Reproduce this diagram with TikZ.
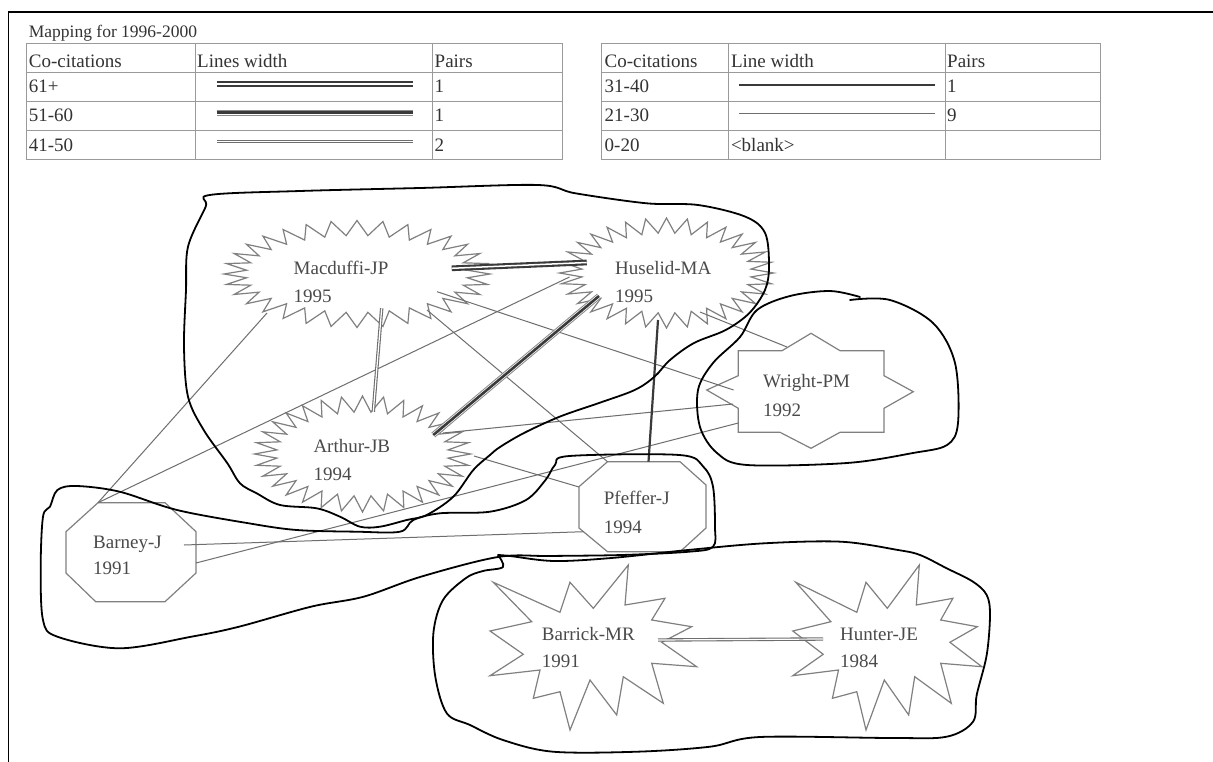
\documentclass[tikz,border=0pt]{standalone}
\usepackage{fontspec}
\setmainfont{Liberation Serif}
\definecolor{shapecol}{HTML}{808080}
\definecolor{linecol}{HTML}{6E6E6E}
\definecolor{txtcol}{HTML}{4A4A4A}
\definecolor{tblcol}{HTML}{9A9A9A}
\definecolor{tbltxt}{HTML}{333333}
\definecolor{darkcol}{HTML}{3A3A3A}
\definecolor{midcol}{HTML}{8A8A8A}
% seal (many-pointed elliptic star): cx, cy, rx, ry, depth x, depth y
\newcommand{\sealstar}[6]{%
  \draw[shp] plot[domain=0:63, samples=64, variable=\k]
    ({#1+(#3-#5*mod(\k,2))*cos(\k*5.625)}, {#2+(#4-#6*mod(\k,2))*sin(\k*5.625)}) -- cycle;}
\begin{document}
\begin{tikzpicture}[x=1pt,y=-1pt,
  shp/.style={draw=shapecol, line width=1.2pt, line join=miter},
  hand/.style={draw=black, line width=1.8pt, line cap=round, line join=round},
  framel/.style={draw=black, line width=1.8pt},
  tbl/.style={draw=tblcol, line width=1pt},
  tt/.style={anchor=base west, inner sep=0pt, text=tbltxt, font=\fontsize{19}{22}\selectfont},
  lbl/.style={anchor=base west, inner sep=0pt, text=txtcol, font=\fontsize{19}{22}\selectfont},
  cthin/.style={draw=linecol, line width=1pt},
  cmid/.style={draw=darkcol, line width=2.2pt},
  cdbl/.style={draw=linecol, line width=1.1pt, double=white, double distance=1.2pt},
  cfif/.style={preaction={draw=midcol, line width=6pt}, draw=white, line width=4pt, postaction={draw=darkcol, line width=2.6pt}},
  csix/.style={draw=darkcol, line width=2.1pt, double=white, double distance=1.5pt}
]
\useasboundingbox (0,0) rectangle (1213,762);
\fill[white] (0,0) rectangle (1213,762);

% frame
\draw[framel] (1213,11.7) -- (8.4,11.7) -- (8.4,762);

% ---------------- legend tables ----------------
\node[anchor=base west, inner sep=0pt, text=tbltxt, font=\fontsize{17.5}{20}\selectfont] (title) at (28.7,37.3) {Mapping for 1996-2000};

\draw[tbl] (26,43.3) rectangle (562.6,160);
\foreach \yy in {72.5,101.5,130.5} \draw[tbl] (26,\yy) -- (562.6,\yy);
\foreach \xx in {195,432.5} \draw[tbl] (\xx,43.3) -- (\xx,160);

\draw[tbl] (601.6,43.3) rectangle (1100.6,160);
\foreach \yy in {72.5,101.5,130.5} \draw[tbl] (601.6,\yy) -- (1100.6,\yy);
\foreach \xx in {728.7,945} \draw[tbl] (\xx,43.3) -- (\xx,160);

\node[tt] (lh1) at (28.7,67.5) {Co-citations};
\node[tt] (lh2) at (197,67.5) {Lines width};
\node[tt] (lh3) at (434.5,67.5) {Pairs};
\node[tt] (lr1) at (28.7,93) {61+};
\node[tt] (lr1p) at (434.5,93) {1};
\node[tt] (lr2) at (28.7,122) {51-60};
\node[tt] (lr2p) at (434.5,122) {1};
\node[tt] (lr3) at (28.7,151.5) {41-50};
\node[tt] (lr3p) at (434.5,151.5) {2};

\node[tt] (rh1) at (604.5,67.5) {Co-citations};
\node[tt] (rh2) at (730.8,67.5) {Line width};
\node[tt] (rh3) at (947,67.5) {Pairs};
\node[tt] (rr1) at (604.5,93) {31-40};
\node[tt] (rr1p) at (947,93) {1};
\node[tt] (rr2) at (604.5,122) {21-30};
\node[tt] (rr2p) at (947,122) {9};
\node[tt] (rr3) at (604.5,151.5) {0-20};
\node[tt] (rr3b) at (730.8,151.5) {<blank>};

% legend sample lines
\draw[csix] (216.7,84) -- (413.3,84);
\draw[cfif] (216.7,112.7) -- (413.3,112.7);
\draw[cdbl] (216.7,141.7) -- (413.3,141.7);
\draw[cmid] (739,85) -- (935,85);
\draw[cthin] (739,113.3) -- (935,113.3);

% ---------------- node shapes ----------------
\sealstar{357}{274}{133}{53.5}{22}{15}
\sealstar{666.5}{273}{107}{55}{22}{15}
\sealstar{362.5}{454}{108}{58}{22}{16}

% Wright-PM
\draw[shp] (811,333.3) -- (840,350.7) -- (884,350.7) -- (884,375.7) -- (913.3,391.7) -- (884,408.3)
  -- (884,432.3) -- (840,432.3) -- (811,448.3) -- (780,432.3) -- (738.3,432.3) -- (738.3,408.3)
  -- (706.7,390) -- (738.3,375.7) -- (738.3,350.7) -- (782,350.7) -- cycle;
% Pfeffer-J
\draw[shp] (607.5,461.7) -- (680,461.7) -- (706,485) -- (706,528) -- (680,551.7) -- (607.5,551.7) -- (579,528) -- (579,486.7) -- cycle;
% Barney-J
\draw[shp] (98,502.7) -- (165,502.7) -- (196,531.7) -- (196,573) -- (165,601.7) -- (95.7,601.7) -- (66,573) -- (66,531.7) -- cycle;
% Barrick-MR
\draw[shp] (493.3,582.3) -- (560,612.3) -- (570,582.3) -- (593.3,608.3) -- (628.3,565) -- (625,605)
  -- (665,598.3) -- (651.7,620) -- (691.7,626.7) -- (661.7,642.3) -- (696.7,666.7) -- (651.7,663.3)
  -- (663.3,703.3) -- (623.3,676.7) -- (616.7,715) -- (590,680) -- (570,730) -- (560,691.7)
  -- (533.3,698.3) -- (540,670) -- (490,675.7) -- (523.3,654.3) -- (490,631) -- (531.7,621.7) -- cycle;
% Hunter-JE
\draw[shp] (795.8,582.3) -- (856.8,612.3) -- (866,582.3) -- (887.3,608.3) -- (919.3,565) -- (916.3,605)
  -- (952.9,598.3) -- (940.7,620) -- (977.3,626.7) -- (949.9,642.3) -- (981.9,666.7) -- (940.7,663.3)
  -- (951.3,703.3) -- (914.7,676.7) -- (908.7,715) -- (884.3,680) -- (866,730) -- (856.8,691.7)
  -- (832.4,698.3) -- (838.5,670) -- (792.8,675.7) -- (823.2,654.3) -- (792.8,631) -- (830.9,621.7) -- cycle;

% ---------------- labels ----------------
\node[lbl] (mac) at (293.5,274.3) {Macduffi-JP};
\node[lbl] (macy) at (293.5,302) {1995};
\node[lbl] (hus) at (615,274.3) {Huselid-MA};
\node[lbl] (husy) at (615,302.5) {1995};
\node[lbl] (art) at (313.3,452.8) {Arthur-JB};
\node[lbl] (arty) at (313.3,480.5) {1994};
\node[lbl] (wri) at (763,387.5) {Wright-PM};
\node[lbl] (wriy) at (763,416) {1992};
\node[lbl] (pfe) at (603.7,504.3) {Pfeffer-J};
\node[lbl] (pfey) at (603.7,533) {1994};
\node[lbl] (brn) at (93,548) {Barney-J};
\node[lbl] (brny) at (93,574.3) {1991};
\node[lbl] (brk) at (541.7,640) {Barrick-MR};
\node[lbl] (brky) at (541.7,667.7) {1991};
\node[lbl] (hun) at (840,640) {Hunter-JE};
\node[lbl] (huny) at (840,667.7) {1984};

% ---------------- connector end points ----------------
\coordinate (macE) at (451.7,268.3);
\coordinate (husW) at (586.7,262.5);
\coordinate (husSW) at (599,296);
\coordinate (artNE) at (433.3,435);
\coordinate (macS) at (381.7,308.3);
\coordinate (artN) at (373.3,411.7);
\coordinate (brkE) at (658,640);
\coordinate (hunW) at (823,639);
\coordinate (husS) at (658,320);
\coordinate (pfeN) at (648.5,461.7);
\coordinate (macSW) at (267,313);
\coordinate (brnNW) at (98,502.7);
\coordinate (husL) at (569.5,277);
\coordinate (macR) at (437,291.7);
\coordinate (wriL) at (733.6,390);
\coordinate (macB) at (427,310);
\coordinate (pfeNW) at (607.5,461.7);
\coordinate (husSE) at (700,312);
\coordinate (wriNW) at (787,347);
\coordinate (artE) at (443,433);
\coordinate (wriL2) at (733,404);
\coordinate (artE2) at (474,456);
\coordinate (pfeW) at (579,487);
\coordinate (brnE) at (196,563);
\coordinate (wriSW) at (738.3,423);
\coordinate (brnT) at (184,545);
\coordinate (pfeW2) at (583.7,531.7);

% ---------------- connectors ----------------
\draw[cthin] (macSW) -- (brnNW);
\draw[cthin] (husL) -- (brnNW);
\draw[cthin] (macR) -- (wriL);
\draw[cthin] (macB) -- (pfeNW);
\draw[cthin] (husSE) -- (wriNW);
\draw[cthin] (artE) -- (wriL2);
\draw[cthin] (artE2) -- (pfeW);
\draw[cthin] (brnE) -- (wriSW);
\draw[cthin] (brnT) -- (pfeW2);
\draw[cmid] (husS) -- (pfeN);
\draw[cdbl] (macS) -- (artN);
\draw[cdbl] (brkE) -- (hunW);
\draw[cfif] (husSW) -- (artNE);
\draw[csix] (macE) -- (husW);

% ---------------- hand-drawn cluster outlines ----------------
\draw[hand] plot[smooth cycle, tension=0.55] coordinates {
  (209.7,195) (300,191) (420,188) (537.9,185) (575.4,193.3) (646.6,203.3) (698,205)
  (745.4,216.7) (765.2,233.3) (769,266.7) (765,290) (749.4,313) (725.7,330) (694,343)
  (670,360) (654.5,376.7) (634.7,390) (599,403) (559.6,416.7) (524,433) (500,447)
  (490,455) (473.3,470) (453.3,496.7) (426.7,515) (406.7,520) (380,526.7) (360,526.7)
  (340,516.7) (316.7,508.3) (280,505) (256.7,493.3) (240,483.3) (227.4,463.3)
  (203.7,430) (188,396.7) (184,346.7) (186,290) (188,246.7) (205.7,206.7)};

\draw[hand] plot[smooth, tension=0.55] coordinates {
  (850,300) (890,300) (933,323) (955,363) (958,423) (947,445) (913,453) (847,463)
  (747,465) (717,453) (700,427) (698,390) (713,363) (740,337) (757,310) (790,296)
  (830,291) (860,297)};

\draw[hand] plot[smooth cycle, tension=0.55] coordinates {
  (50,506.7) (57.4,490) (76.6,486) (119.6,491.7) (177,510) (248.8,523.3) (296.7,530)
  (356.7,531.7) (400,531.7) (413.3,520) (440,513.3) (490,511.7) (526,500) (545.5,480)
  (555,465) (569.4,456) (679.4,455) (703.3,466.7) (713,486.7) (715,526.7) (713,546.7)
  (689,551.7) (622,555) (550,556) (498,557) (421,576.7) (363.6,596.7) (311,606.7)
  (239,626.7) (191.4,636.7) (119.6,648.3) (57.4,636.7) (43,620) (40.7,566.7) (43,516.7)};

\draw[hand] plot[smooth, tension=0.55] coordinates {
  (498,555) (503,567) (483,571) (466,578) (443,600) (433.4,633) (435.3,676.7)
  (446.8,713.3) (470,725) (503,740) (553,751.7) (637,751.7) (710,746.7) (760,737)
  (893,738) (946.7,736.7) (973,721.7) (976.7,695) (986.7,655) (990,615) (986.7,595)
  (973,581.7) (946.7,568.3) (920,555) (898,550) (841,541.7) (764.4,543.3) (688,550)
  (611.4,558) (554,561) (510,556) (498,555)};
\end{tikzpicture}
\end{document}
